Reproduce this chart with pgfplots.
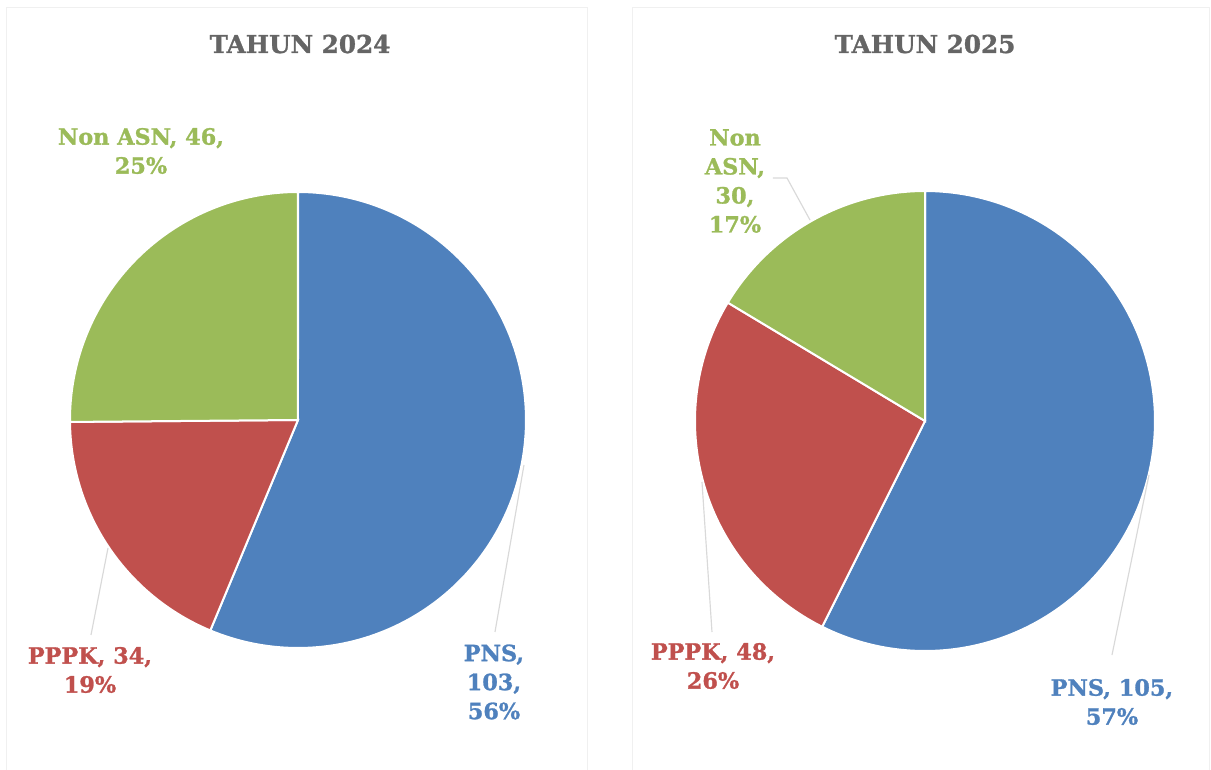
\documentclass[border=0pt]{standalone}
\usepackage{pgfplots}
\pgfplotsset{compat=1.18}
\usepackage{fontspec}
\setmainfont{DejaVu Serif}[BoldFeatures={FakeBold=1.2}]
\definecolor{pnsblue}{HTML}{4F81BD}
\definecolor{pppkred}{HTML}{C0504D}
\definecolor{nongreen}{HTML}{9BBB59}
\definecolor{titlegray}{HTML}{656565}
\definecolor{leadgray}{HTML}{D9D9D9}
\pgfplotsset{
  pieax/.style={
    axis lines=box, ticks=none, clip=false,
    axis line style={draw=black!6, line width=0.6pt},
    anchor=south west,
  },
  wedge/.style={draw=white, line width=1.2pt, samples=150, variable=\t},
  lead/.style={draw=leadgray, line width=0.7pt, mark=none},
}
\tikzset{
  lab/.style={font=\fontsize{13.4}{17.4}\selectfont\bfseries, align=center, anchor=center},
  ttl/.style={font=\fontsize{14.8}{17}\selectfont\bfseries, text=titlegray},
}
\begin{document}
\begin{tikzpicture}
\useasboundingbox (0,0) rectangle (726.6pt,461.4pt);
% ---------- 2024 ----------
\pgfmathsetmacro{\tA}{103+34+46}
\pgfmathsetmacro{\aA}{90-103/\tA*360}
\pgfmathsetmacro{\aB}{\aA-34/\tA*360}
\begin{axis}[pieax, at={(4.2pt,-6pt)}, x=136.8pt, y=136.8pt,
  xmin=-1.2763, xmax=1.2719, ymin=-1.5746, ymax=1.8070]
  \addplot[wedge, fill=pnsblue, domain=\aA:90] ({cos(t)},{sin(t)}) -- (0,0) -- cycle;
  \addplot[wedge, fill=pppkred, domain=\aB:\aA] ({cos(t)},{sin(t)}) -- (0,0) -- cycle;
  \addplot[wedge, fill=nongreen, domain=-270:\aB] ({cos(t)},{sin(t)}) -- (0,0) -- cycle;
  \addplot[lead] coordinates {(-0.9079,-0.9430) (-0.8333,-0.5614)};
  \addplot[lead] coordinates {(0.8640,-0.9298) (0.9912,-0.1974)};
  \node[ttl] at (0.0088,1.649) {TAHUN 2024};
  \node[lab, text=nongreen] at (-0.6886,1.1798) {Non ASN, 46,\\25\%};
  \node[lab, text=pppkred] at (-0.9123,-1.0965) {PPPK, 34,\\19\%};
  \node[lab, text=pnsblue] at (0.8596,-1.1491) {PNS,\\103,\\56\%};
\end{axis}
% ---------- 2025 ----------
\pgfmathsetmacro{\tB}{105+48+30}
\pgfmathsetmacro{\bA}{90-105/\tB*360}
\pgfmathsetmacro{\bB}{\bA-48/\tB*360}
\begin{axis}[pieax, at={(379.2pt,-6pt)}, x=138pt, y=138pt,
  xmin=-1.2739, xmax=1.2348, ymin=-1.5565, ymax=1.7957]
  \addplot[wedge, fill=pnsblue, domain=\bA:90] ({cos(t)},{sin(t)}) -- (0,0) -- cycle;
  \addplot[wedge, fill=pppkred, domain=\bB:\bA] ({cos(t)},{sin(t)}) -- (0,0) -- cycle;
  \addplot[wedge, fill=nongreen, domain=-270:\bB] ({cos(t)},{sin(t)}) -- (0,0) -- cycle;
  \addplot[lead] coordinates {(-0.6609,1.0565) (-0.6,1.0565) (-0.5,0.8739)};
  \addplot[lead] coordinates {(-0.9261,-0.9174) (-0.9696,-0.2652)};
  \addplot[lead] coordinates {(0.8130,-1.0174) (0.9739,-0.2348)};
  \node[ttl] at (0,1.6391) {TAHUN 2025};
  \node[lab, text=nongreen] at (-0.8261,1.0435) {Non\\ASN,\\30,\\17\%};
  \node[lab, text=pppkred] at (-0.9217,-1.0652) {PPPK, 48,\\26\%};
  \node[lab, text=pnsblue] at (0.8130,-1.2217) {PNS, 105,\\57\%};
\end{axis}
\end{tikzpicture}
\end{document}
